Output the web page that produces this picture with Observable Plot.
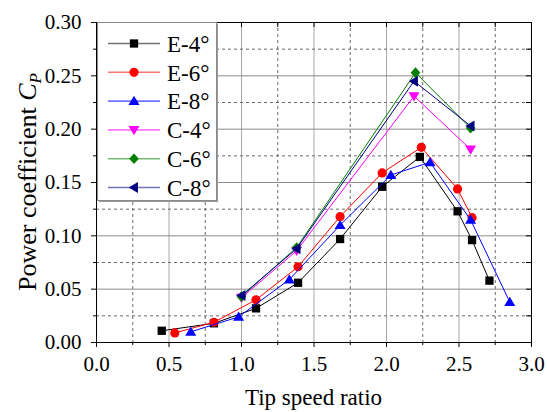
<!DOCTYPE html>
<html>
<head>
<meta charset="utf-8">
<script src="https://cdn.jsdelivr.net/npm/d3@7"></script>
<script src="https://cdn.jsdelivr.net/npm/@observablehq/plot@0.6"></script>
<style>
  body { margin: 0; background: #fff; }
  #chart { width: 547px; height: 412px; }
</style>
</head>
<body>
<div id="chart"></div>
<script>
// Power coefficient vs tip speed ratio: experiment (E) and computation (C) at three pitch angles
const seriesNames = ["E-4°", "E-6°", "E-8°", "C-4°", "C-6°", "C-8°"];
const seriesColors = ["#000000", "#ff0000", "#0000ff", "#ff00ff", "#008000", "#000080"];

const e4Tsr = [0.45, 0.81, 1.10, 1.39, 1.68, 1.97, 2.23, 2.49, 2.59, 2.71];
const e4Cp  = [0.011, 0.018, 0.032, 0.056, 0.097, 0.146, 0.174, 0.123, 0.096, 0.058];

const e6Tsr = [0.54, 0.81, 1.10, 1.39, 1.68, 1.97, 2.24, 2.49, 2.59];
const e6Cp  = [0.009, 0.019, 0.040, 0.071, 0.118, 0.159, 0.183, 0.144, 0.117];

const e8Tsr = [0.65, 0.98, 1.33, 1.68, 2.03, 2.30, 2.58, 2.85];
const e8Cp  = [0.010, 0.024, 0.059, 0.110, 0.157, 0.169, 0.115, 0.038];

const c4Tsr = [1.00, 1.38, 2.19, 2.58];
const c4Cp  = [0.042, 0.086, 0.231, 0.181];

const c6Tsr = [1.00, 1.38, 2.20, 2.58];
const c6Cp  = [0.043, 0.089, 0.253, 0.201];

const c8Tsr = [1.00, 1.38, 2.19, 2.58];
const c8Cp  = [0.044, 0.088, 0.245, 0.203];

const xTicks = [0, 0.5, 1.0, 1.5, 2.0, 2.5, 3.0];
const xMinor = [0.25, 0.75, 1.25, 1.75, 2.25, 2.75];
const yTicks = [0, 0.05, 0.10, 0.15, 0.20, 0.25, 0.30];
const yMinor = [0.025, 0.075, 0.125, 0.175, 0.225, 0.275];

const tsrArrays = [e4Tsr, e6Tsr, e8Tsr, c4Tsr, c6Tsr, c8Tsr];
const cpArrays = [e4Cp, e6Cp, e8Cp, c4Cp, c6Cp, c8Cp];

// Marker shapes (custom d3 symbol types)
function shape(drawFn) {
  return { draw(ctx, size) { const r = Math.sqrt(size / Math.PI); drawFn(ctx, r); } };
}
function poly(ctx, pts) {
  ctx.moveTo(pts[0][0], pts[0][1]);
  for (let i = 1; i < pts.length; i++) ctx.lineTo(pts[i][0], pts[i][1]);
  ctx.closePath();
}
const symSquare = shape((c, r) => { const h = r * 0.9; c.rect(-h, -h, 2 * h, 2 * h); });
const symCircle = shape((c, r) => { c.moveTo(r, 0); c.arc(0, 0, r, 0, 2 * Math.PI); });
const symUp = shape((c, r) => poly(c, [[0, -1.15 * r], [1.2 * r, 0.85 * r], [-1.2 * r, 0.85 * r]]));
const symDown = shape((c, r) => poly(c, [[0, 1.15 * r], [1.2 * r, -0.85 * r], [-1.2 * r, -0.85 * r]]));
const symDiamond = shape((c, r) => poly(c, [[0, -1.15 * r], [1.05 * r, 0], [0, 1.15 * r], [-1.05 * r, 0]]));
const symLeft = shape((c, r) => poly(c, [[-1.15 * r, 0], [0.85 * r, -1.2 * r], [0.85 * r, 1.2 * r]]));
const seriesSymbols = [symSquare, symCircle, symUp, symDown, symDiamond, symLeft];

const rows = seriesNames.map((name, i) =>
  tsrArrays[i].map((t, j) => ({ series: name, tsr: t, cp: cpArrays[i][j] }))
);

const W = 547, H = 412;
const mL = 96, mR = 16, mT = 22, mB = 70;
const plotW = W - mL - mR, plotH = H - mT - mB;
const font = "Liberation Serif, Times New Roman, serif";

const seriesMarks = rows.flatMap((data, i) => [
  Plot.line(data, { x: "tsr", y: "cp", stroke: seriesColors[i], strokeWidth: 1 }),
  Plot.dot(data, { x: "tsr", y: "cp", fill: seriesColors[i], stroke: "none", r: 4.6, symbol: seriesSymbols[i] })
]);

const chart = Plot.plot({
  width: W,
  height: H,
  marginLeft: mL,
  marginRight: mR,
  marginTop: mT,
  marginBottom: mB,
  x: { domain: [0, 3] },
  y: { domain: [0, 0.3] },
  style: { fontFamily: font, fontSize: "21px", color: "#000", background: "#fff" },
  marks: [
    Plot.gridX(xTicks, { stroke: "#a8a8a8", strokeOpacity: 1 }),
    Plot.gridX(xMinor, { stroke: "#6a6a6a", strokeOpacity: 1, strokeDasharray: "3,3" }),
    Plot.gridY(yTicks, { stroke: "#8a8a8a", strokeOpacity: 1 }),
    Plot.gridY(yMinor, { stroke: "#6a6a6a", strokeOpacity: 1, strokeDasharray: "3,3" }),
    // outward ticks with labels on bottom/left
    Plot.axisX(xTicks, { anchor: "bottom", tickSize: 5, tickPadding: 9, tickFormat: d3.format(".1f"), label: null, fontSize: 21, fontFamily: font }),
    Plot.axisX(xMinor, { anchor: "bottom", tickSize: 3, tickFormat: () => "", label: null }),
    Plot.axisY(yTicks, { anchor: "left", tickSize: 5, tickPadding: 10, tickFormat: d3.format(".2f"), label: null, fontSize: 21, fontFamily: font }),
    Plot.axisY(yMinor, { anchor: "left", tickSize: 3, tickFormat: () => "", label: null }),
    // inward ticks on top/right
    Plot.tickX(xTicks.concat(xMinor), { x: d => d, stroke: "#000", insetBottom: plotH - 5 }),
    Plot.tickY(yTicks.concat(yMinor), { y: d => d, stroke: "#000", insetLeft: plotW - 5 }),
    ...seriesMarks,
    Plot.frame({ stroke: "#000", strokeWidth: 1 })
  ]
});

document.getElementById("chart").appendChild(chart);

const svg = d3.select(chart);

// Axis titles
svg.append("text")
  .attr("x", mL + plotW / 2)
  .attr("y", 405)
  .attr("text-anchor", "middle")
  .attr("font-family", font)
  .style("font-family", font)
  .style("font-size", "23px")
  .attr("fill", "#000")
  .text("Tip speed ratio");

const yTitle = svg.append("text")
  .attr("transform", `translate(36, ${mT + plotH / 2}) rotate(-90)`)
  .attr("text-anchor", "middle")
  .attr("font-family", font)
  .style("font-family", font)
  .style("font-size", "26px")
  .attr("fill", "#000");
yTitle.append("tspan").text("Power coefficient ");
yTitle.append("tspan").style("font-style", "italic").text("C");
yTitle.append("tspan").style("font-style", "italic").style("font-size", "17px").attr("dy", "5").text("P");

// Legend box in the upper-left corner of the frame
const lg = svg.append("g").attr("transform", `translate(${mL + 1}, ${mT})`);
const boxW = 119, boxH = 178;
lg.append("rect").attr("x", 2).attr("y", 2).attr("width", boxW).attr("height", boxH).attr("fill", "#9a9a9a");
lg.append("rect").attr("x", 0.5).attr("y", 0.5).attr("width", boxW).attr("height", boxH)
  .attr("fill", "#fff").attr("stroke", "#8a8a8a").attr("stroke-width", 1);
seriesNames.forEach((name, i) => {
  const cy = 21.5 + i * 28.8;
  const row = lg.append("g").attr("transform", `translate(0, ${cy})`);
  row.append("line").attr("x1", 11).attr("x2", 63).attr("y1", 0).attr("y2", 0)
    .attr("stroke", seriesColors[i]).attr("stroke-width", 1.6).attr("stroke-opacity", 0.55);
  row.append("path")
    .attr("transform", "translate(37, 0)")
    .attr("d", d3.symbol(seriesSymbols[i], Math.PI * 4.6 * 4.6)())
    .attr("fill", seriesColors[i]);
  row.append("text").attr("x", 70).attr("y", 0).attr("dy", "0.36em")
    .attr("text-anchor", "start")
    .attr("font-family", font)
    .style("font-family", font).style("font-size", "23px").attr("fill", "#000")
    .text(name);
});
</script>
</body>
</html>
